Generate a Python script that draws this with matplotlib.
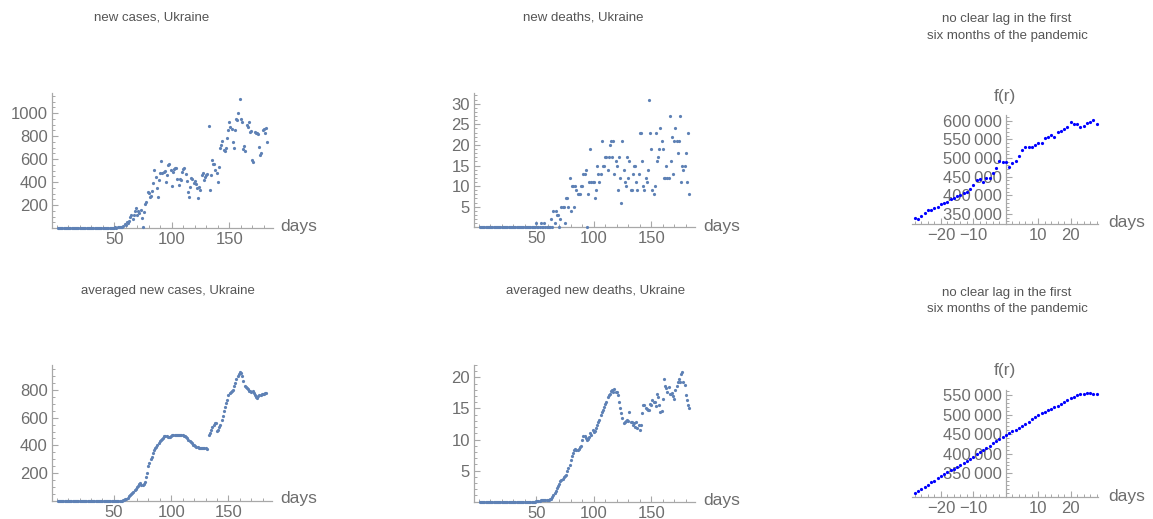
import numpy as np
import matplotlib
matplotlib.use("Agg")
import matplotlib.pyplot as plt
from matplotlib.ticker import MultipleLocator, FixedLocator

# daily data, day 1 .. 183
new_cases = [0] * 45 + [
    1, 0, 2, 0, 3, 6, 4, 10, 8, 12,
    5, 10, 20, 35, 30, 55, 45, 60, 100, 110,
    80, 115, 150, 170, 110, 150, 130, 160, 85, 10,
    140, 205, 230, 310, 305, 270, 275, 320, 394, 504,
    446, 345, 267, 417, 480, 580, 475, 490, 499, 397,
    460, 548, 557, 504, 365, 490, 510, 520, 525, 423,
    374, 430, 420, 490, 510, 525, 470, 410, 316, 267,
    360, 438, 430, 395, 410, 380, 345, 258, 360, 330, 460,
    475, 420, 445, 460, 470, 890, 330, 460, 590, 560,
    556, 505, 475, 397, 527, 693, 720, 760, 678, 670,
    700, 780, 852, 925, 880, 858, 745, 693, 852, 948, 940,
    997, 1120, 948, 925, 684, 713, 670, 896, 881, 925,
    838, 840, 591, 571, 838, 829, 823, 820, 707,
    635, 649, 852, 858, 829, 867, 750,
]

new_deaths = [0] * 49 + [
    1, 0, 0, 0, 1, 0, 0, 1, 0, 0,
    0, 0, 0, 2, 0, 4, 1, 4, 3, 3,
    0, 2, 5, 5, 5, 1, 7, 7, 5, 12,
    4, 10, 10, 5, 10, 9, 8, 8, 8, 10,
    10, 13, 13, 14, 0, 8, 11, 19, 11, 11,
    11, 7, 9, 15, 13, 11, 13, 21, 15, 15,
    17, 17, 14, 17, 20, 21, 17, 21, 13, 16,
    15, 9, 17, 12, 6, 21, 14, 11, 10, 17,
    12, 16, 9, 9, 13, 15, 15, 11, 9, 13,
    23, 23, 16, 10, 9, 12, 11, 14, 31, 23,
    19, 9, 8, 10, 23, 16, 17, 19, 24, 21,
    19, 12, 12, 15, 12, 12, 27, 16, 22, 13,
    21, 24, 21, 18, 21, 27, 11, 15, 14, 15,
    18, 11, 23, 8,
]

avg_cases = [0] * 55 + [
    1, 2, 4, 7, 11, 17, 25, 33, 42, 52,
    60, 68, 78, 88, 98, 108, 120, 127, 118, 113,
    120, 138, 170, 205, 250, 275, 300, 320, 345, 365,
    378, 390, 400, 415, 430, 438, 445, 455, 468, 470,
    465, 460, 458, 462, 468, 472, 474, 475, 476, 475,
    474, 476, 475, 474, 473, 470, 466, 458, 450, 442,
    432, 425, 415, 405, 400, 396, 390, 388, 385, 382,
    380, 383, 382, 378, 380, 377, np.nan, 475, 490, 510,
    530, 548, 560, 565, 505, 512, 530, 550, 580, 615,
    650, 680, 705, 730, 760, 775, 785, 790, 800, 830,
    850, 875, 900, 915, 930, 925, 900, 865, 830, 820,
    810, 805, 795, 790, 785, 790, 775, 760, 750, 745,
    755, 760, 765, 768, 770, 772, 775, 780,
]

avg_deaths = [0] * 49 + [
    0.1, 0.1, 0.1, 0.1, 0.2, 0.2, 0.2, 0.3, 0.3, 0.3,
    0.3, 0.3, 0.4, 0.5,
    0.75, 1.1, 1.4, 1.8, 2.2, 2.6, 2.9, 3.3, 3.5, 3.7,
    4.0, 4.1, 4.3, 4.9, 5.5, 5.9, 6.7, 7.3, 7.8, 8.3,
    8.5, 8.4, 8.3, 8.5, 8.8, 9.0, 9.9, 10.5, 10.6, 10.2,
    9.9, 10.1, 10.4, 11.0, 10.8, 11.5, 11.2, 11.4, 11.8, 12.3,
    12.8, 13.1, 13.9, 14.4, 14.7, 15.3, 15.7, 16.0, 16.9, 17.2,
    17.4, 17.8,
    18.0, 17.6, 18.1, 17.7, 17.6, 17.2, 16.0, 15.0, 14.2, 13.4,
    12.6, 12.8, 13.0, 13.1, 13.0, 14.5, 12.8, 12.9, 12.3, 12.6,
    12.1, 12.8, 11.8, 12.3, 11.5, 12.3, 14.2, 15.6, 15.5, 15.0,
    14.9, 14.7, 14.7, 15.7, 15.5, 16.3, 16.1, 16.0, 15.4, 17.4,
    16.8, 15.5, 14.5, 14.6, 16.6, 19.8, 18.6, 18.3, 17.7, 18.4,
    17.4, 17.4, 17.5, 17.0, 16.6, 18.0, 18.6, 19.3, 19.8, 19.3,
    20.6, 20.8, 19.3, 18.8, 17.2, 16.3, 15.5, 15.0,
]

# lag r = -28 .. 28
lags = list(range(-28, 29))
lag_raw = [
    338400, 335700, 344600, 351700, 360700, 360700, 365000, 369600, 376700, 378500,
    383000, 389300, 393700, 398200, 400900, 405300, 409800, 417000, 427700, 441000,
    442800, 436600, 445500, 447300, 458900, 474000, 492800, 490000, 488400, 476800,
    485700, 492800, 506200, 521400, 530300, 530300, 530300, 534800, 539300, 541100,
    552700, 557100, 561600, 557100, 570500, 573200, 577700, 582100, 597300, 591100,
    591100, 583900, 585700, 592900, 595500, 601800, 591100,
]
lag_avg = [
    300600, 305500, 310800, 316000, 321000, 326500, 331500, 337000, 343000, 347500,
    352500, 357500, 362000, 367000, 371500, 376500, 382000, 387500, 392500, 398500,
    404500, 410000, 415500, 421000, 426500, 432500, 438000, 443000, 448000, 453000,
    457500, 461500, 465500, 470000, 476000, 482000, 488000, 493500, 499000, 503000,
    507500, 511000, 515000, 519000, 523000, 527500, 532000, 537000, 541500, 546000,
    549500, 552000, 553500, 554000, 554000, 553500, 551500,
]

W, H = 1153, 519
AXIS = '#a8a8a8'
LABEL = '#6e6e6e'
TITLE = '#555555'
DOT = '#5e81b5'

plt.rcParams['font.family'] = ['Liberation Sans', 'DejaVu Sans']

fig = plt.figure(figsize=(W / 100, H / 100), dpi=100)


def px_axes(left, top, right, bottom):
    return fig.add_axes([left / W, 1 - bottom / H, (right - left) / W, (bottom - top) / H])


def px_text(x, y, s, **kw):
    fig.text(x / W, 1 - y / H, s, **kw)


def style(ax):
    for s in ('top', 'right'):
        ax.spines[s].set_visible(False)
    for s in ('left', 'bottom'):
        ax.spines[s].set_color(AXIS)
        ax.spines[s].set_linewidth(0.9)
    ax.tick_params(which='both', direction='in', colors=AXIS, labelcolor=LABEL,
                   labelsize=12, pad=3)
    ax.tick_params(which='major', length=4, width=0.8)
    ax.tick_params(which='minor', length=2.2, width=0.7)
    ax.patch.set_alpha(0)


def day_panel(rect, values, ymax, ymajor, yminor):
    ax = px_axes(*rect)
    days = np.arange(1, len(values) + 1)
    ax.plot(days, values, 'o', ms=2.3, color=DOT, mec='none', clip_on=False, zorder=3)
    ax.set_xlim(-4, 188)
    ax.set_ylim(0, ymax)
    ax.xaxis.set_major_locator(FixedLocator([50, 100, 150]))
    ax.xaxis.set_minor_locator(MultipleLocator(10))
    ax.yaxis.set_major_locator(FixedLocator(ymajor))
    ax.yaxis.set_minor_locator(MultipleLocator(yminor))
    style(ax)
    return ax


def fmt_big(v):
    return f"{v // 1000}\u2009000"


def lag_panel(rect, values, ylo, yhi, yticks):
    ax = px_axes(*rect)
    ax.plot(lags, values, 'o', ms=2.3, color='blue', mec='none', clip_on=False, zorder=3)
    ax.set_xlim(-29, 28.5)
    ax.set_ylim(ylo, yhi)
    ax.spines['left'].set_position(('data', 0))
    ax.set_xticks([-20, -10, 10, 20], ['\u221220', '\u221210', '10', '20'])
    ax.xaxis.set_minor_locator(MultipleLocator(2))
    ax.set_yticks(yticks, [fmt_big(v) for v in yticks])
    ax.yaxis.set_minor_locator(MultipleLocator(10000))
    style(ax)
    return ax


day_panel((52, 93, 273, 228), new_cases, 1174, [200, 400, 600, 800, 1000], 50)
day_panel((474, 93, 695, 227.3), new_deaths, 32.6, [5, 10, 15, 20, 25, 30], 1)
lag_panel((911.7, 115, 1098.3, 224), lag_raw, 323200, 615300,
          [350000, 400000, 450000, 500000, 550000, 600000])
day_panel((52, 365, 272, 501), avg_cases, 979, [200, 400, 600, 800], 50)
day_panel((474, 365, 695, 501.7), avg_deaths, 22.0, [5, 10, 15, 20], 1)
lag_panel((911.7, 390, 1098.3, 496.7), lag_avg, 290200, 562800,
          [350000, 400000, 450000, 500000, 550000])

# axis labels
for x, y in [(280, 226), (703, 226.5), (1108, 223), (280, 499), (703, 500), (1108, 496)]:
    px_text(x, y, 'days', fontsize=12.5, color=LABEL, ha='left', va='center')
for y in (97, 370):
    px_text(1005, y, 'f(r)', fontsize=12.5, color=LABEL, ha='center', va='center')

# titles
tkw = dict(fontsize=9.5, color=TITLE, ha='center', va='center')
px_text(152, 17, 'new cases, Ukraine', **tkw)
px_text(583, 17, 'new deaths, Ukraine', **tkw)
px_text(1007, 27.5, 'no clear lag in the first\nsix months of the pandemic', linespacing=1.55, **tkw)
px_text(168, 291, 'averaged new cases, Ukraine', **tkw)
px_text(596, 291, 'averaged new deaths, Ukraine', **tkw)
px_text(1007, 301, 'no clear lag in the first\nsix months of the pandemic', linespacing=1.55, **tkw)

fig.savefig('out.png', dpi=100)
